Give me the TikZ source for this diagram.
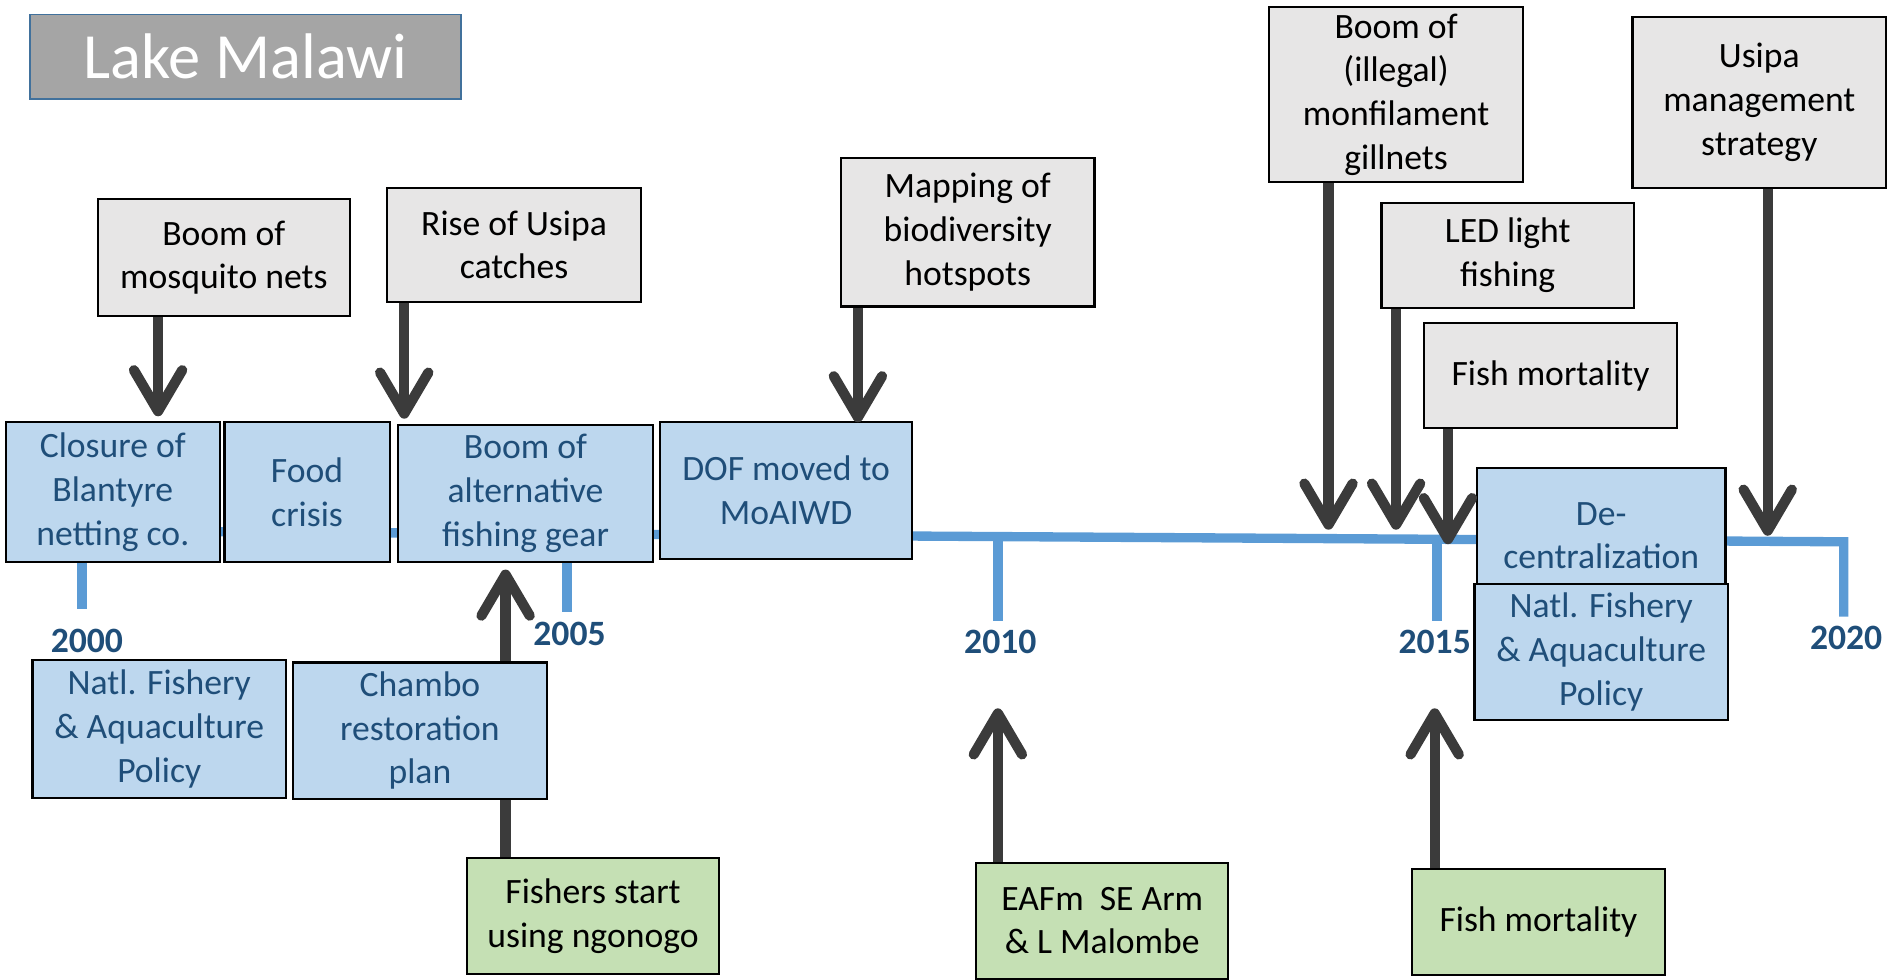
\documentclass[tikz,border=0pt]{standalone}
\usepackage{fontspec}
\setmainfont{Carlito}
\usetikzlibrary{arrows.meta,backgrounds}
\definecolor{titlegray}{HTML}{A5A5A5}
\definecolor{titleline}{HTML}{41719C}
\definecolor{evgray}{HTML}{E7E6E6}
\definecolor{polblue}{HTML}{BDD7EE}
\definecolor{actgreen}{HTML}{C5E0B4}
\definecolor{txtblue}{HTML}{1F4E79}
\definecolor{tlblue}{HTML}{5B9BD5}
\definecolor{arrgray}{HTML}{3B3B3B}
\tikzset{
  evbox/.style={rectangle, draw=black, line width=1.3pt, fill=evgray, align=center, inner sep=1pt, font=\fontsize{21}{25.8}\selectfont},
  polbox/.style={evbox, fill=polblue, text=txtblue},
  actbox/.style={evbox, fill=actgreen},
  yrlabel/.style={font=\fontsize{21}{25}\selectfont\bfseries, text=txtblue},
  arr/.style={line width=6pt, draw=arrgray, -{Straight Barb[length=8.5mm, width=10mm, round]}},
  tline/.style={line width=5.5pt, draw=tlblue},
}

\begin{document}
\begin{tikzpicture}[x=0.025cm, y=-0.025cm]
  \useasboundingbox (0,0) rectangle (1568,812);

  %% ============================================
  %% TIMELINE
  %% ============================================
  \coordinate (t00) at (68,440);
  \coordinate (t05) at (470,442.5);
  \coordinate (t10) at (827,444.7);
  \coordinate (t15) at (1191,446.9);
  \coordinate (t20) at (1528,449);

  \begin{pgfonlayer}{background}
    \draw[tline] (t00) -- (t20) -- ++(0,62);
    \draw[tline] (t00) -- ++(0,65);
    \draw[tline] (t05) -- ++(0,64.5);
    \draw[tline] (t10) -- ++(0,70);
    \draw[tline] (t15) -- ++(0,68);
  \end{pgfonlayer}

  % Year labels
  \node[yrlabel] (y00) at (72,531) {2000};
  \node[yrlabel] (y05) at (472,525) {2005};
  \node[yrlabel] (y10) at (829,532) {2010};
  \node[yrlabel] (y15) at (1189,532) {2015};
  \node[yrlabel] (y20) at (1530,529) {2020};

  % Title
  \node[draw=titleline, line width=1pt, fill=titlegray, text=white, minimum width=8.925cm, minimum height=1.75cm,
        font=\fontsize{38}{42}\selectfont] (title) at (203.5,47) {Lake Malawi};

  %% ============================================
  %% EVENTS (grey, above)
  %% ============================================
  \node[evbox, minimum width=5.225cm, minimum height=2.425cm] (mosq) at (185.5,213.5) {Boom of\\mosquito nets};
  \node[evbox, minimum width=5.25cm, minimum height=2.35cm] (rise) at (426,203) {Rise of Usipa\\catches};
  \node[evbox, minimum width=5.25cm, minimum height=3.075cm] (mapping) at (802,192.5) {Mapping of\\biodiversity\\hotspots};
  \node[evbox, minimum width=5.25cm, minimum height=3.625cm] (illegal) at (1157,78.5) {Boom of\\(illegal)\\monfilament\\gillnets};
  \node[evbox, minimum width=5.25cm, minimum height=3.55cm] (usipa) at (1458,85) {Usipa\\management\\strategy};
  \node[evbox, minimum width=5.225cm, minimum height=2.175cm] (led) at (1249.5,211.5) {LED light\\fishing};
  \node[evbox, minimum width=5.25cm, minimum height=2.175cm] (fishmg) at (1285,311.5) {Fish mortality};

  %% ============================================
  %% POLICY BOXES (blue)
  %% ============================================
  \node[polbox, minimum width=4.425cm, minimum height=2.9cm] (closure) at (93.5,408) {Closure of\\Blantyre\\netting co.};
  \node[polbox, minimum width=3.425cm, minimum height=2.9cm] (food) at (254.5,408) {Food\\crisis};
  \node[polbox, minimum width=5.275cm, minimum height=2.85cm] (boomalt) at (435.5,409) {Boom of\\alternative\\fishing gear};
  \node[polbox, minimum width=5.225cm, minimum height=2.825cm] (dof) at (651.5,406.5) {DOF moved to\\MoAIWD};
  \node[polbox, minimum width=5.25cm, minimum height=2.85cm] (natl1) at (132,604) {Natl. Fishery\\\& Aquaculture\\Policy};
  \node[polbox, minimum width=5.25cm, minimum height=2.825cm] (chambo) at (348,605.5) {Chambo\\restoration\\plan};
  \node[polbox, minimum width=5.15cm, minimum height=2.8cm] (decent) at (1327,444) {De-\\centralization};
  \node[polbox, minimum width=5.25cm, minimum height=2.825cm] (natl2) at (1327,540.5) {Natl. Fishery\\\& Aquaculture\\Policy};

  %% ============================================
  %% ACTIONS (green, below)
  %% ============================================
  \node[actbox, minimum width=5.225cm, minimum height=2.4cm] (fishers) at (491.5,759) {Fishers start\\using ngonogo};
  \node[actbox, minimum width=5.225cm, minimum height=2.4cm] (eafm) at (913.5,763) {EAFm~ SE Arm\\\& L Malombe};
  \node[actbox, minimum width=5.25cm, minimum height=2.2cm] (fishmgr) at (1275,764) {Fish mortality};

  %% ============================================
  %% ARROWS
  %% ============================================
  % arrow heads
  \coordinate (hMosq) at (131,345);
  \coordinate (hRise) at (335,347);
  \coordinate (hMap) at (711,350);
  \coordinate (hIll) at (1101,439);
  \coordinate (hLed) at (1157,439);
  \coordinate (hFish) at (1200,451);
  \coordinate (hUsipa) at (1465,444);
  \coordinate (hAlt) at (419,472);
  \coordinate (hEafm) at (827,587);
  \coordinate (hMort) at (1189,587);

  % down from the events
  \draw[arr] (mosq.south -| hMosq) -- (hMosq);
  \draw[arr] (rise.south -| hRise) -- (hRise);
  \draw[arr] (mapping.south -| hMap) -- (hMap);
  \draw[arr] (illegal.south -| hIll) -- (hIll);
  \draw[arr] (led.south -| hLed) -- (hLed);
  \draw[arr] (fishmg.south -| hFish) -- (hFish);
  \draw[arr] (usipa.south -| hUsipa) -- (hUsipa);

  % up from the actions (ngonogo runs behind the Chambo box)
  \begin{pgfonlayer}{background}
    \draw[arr] (fishers.north -| hAlt) -- (hAlt);
  \end{pgfonlayer}
  \draw[arr] (eafm.north -| hEafm) -- (hEafm);
  \draw[arr] (fishmgr.north -| hMort) -- (hMort);
\end{tikzpicture}
\end{document}
